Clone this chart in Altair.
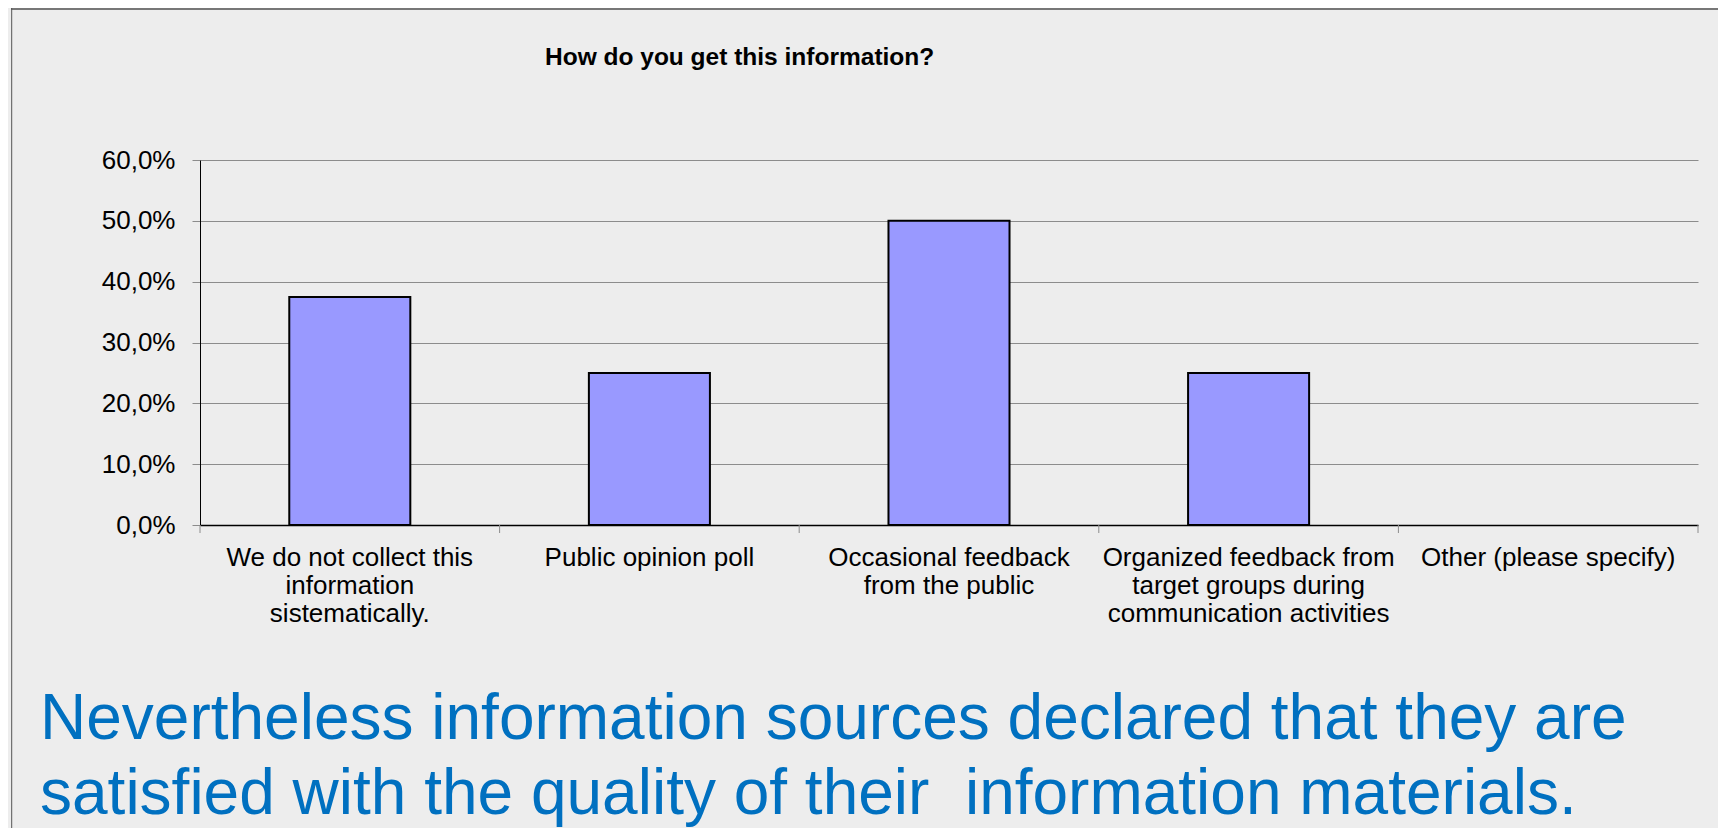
import altair as alt
import pandas as pd

# ---- data -------------------------------------------------------------
label_lines = [
    ["We do not collect this", "information", "sistematically."],
    ["Public opinion poll"],
    ["Occasional feedback", "from the public"],
    ["Organized feedback from", "target groups during", "communication activities"],
    ["Other (please specify)"],
]
categories = ["|".join(l) for l in label_lines]
shares = [0.375, 0.25, 0.50, 0.25, 0.0]
y_ticks = [0.0, 0.1, 0.2, 0.3, 0.4, 0.5, 0.6]
title_text = "How do you get this information?"
caption_lines = [
    "Nevertheless information sources declared that they are",
    "satisfied with the quality of their\u00a0 information materials.",
]

df = pd.DataFrame({"category": categories, "share": shares})
tick_df = pd.DataFrame({"category": categories})
one = pd.DataFrame({"k": [0]})

W, H = 1498, 365
FONT = "Liberation Sans"

x_scale = alt.Scale(domain=categories, paddingInner=0, paddingOuter=0)

x_axis = alt.Axis(
    title=None, labelAngle=0, labelExpr="split(datum.label, '|')",
    ticks=False, domainColor="black", domainWidth=1.5,
    labelFont=FONT, labelFontSize=26, labelColor="black",
    labelLineHeight=28, labelPadding=19, labelLimit=0,
    labelOverlap=False, labelBaseline="top",
)
y_axis = alt.Axis(
    title=None, values=y_ticks,
    labelExpr="replace(format(datum.value, '.1%'), '.', ',')",
    grid=True, gridColor="#8c8c8c", gridWidth=1,
    tickColor="#8c8c8c", tickSize=8, domainColor="black", domainWidth=1,
    labelFont=FONT, labelFontSize=26, labelColor="black", labelPadding=17,
)

bars = alt.Chart(df).transform_filter("datum.share > 0").mark_bar(
    width=alt.RelativeBandSize(0.404), color="#9999FF", stroke="black", strokeWidth=2
).encode(
    x=alt.X("category:N", sort=categories, scale=x_scale, axis=x_axis),
    y=alt.Y("share:Q", scale=alt.Scale(domain=[0, 0.6], nice=False, zero=True), axis=y_axis),
)

ticks_start = alt.Chart(tick_df).mark_rule(color="#8c8c8c", strokeWidth=1).encode(
    x=alt.X("category:N", sort=categories, scale=x_scale, bandPosition=0, axis=x_axis),
    y=alt.value(H), y2=alt.value(H + 8),
)
ticks_end = alt.Chart(tick_df).transform_filter(
    alt.datum.category == categories[-1]
).mark_rule(color="#8c8c8c", strokeWidth=1).encode(
    x=alt.X("category:N", sort=categories, scale=x_scale, bandPosition=1, axis=x_axis),
    y=alt.value(H), y2=alt.value(H + 8),
)

frame_top = alt.Chart(one).mark_rule(color="#777777", strokeWidth=2).encode(
    x=alt.value(-189), x2=alt.value(W + 40), y=alt.value(-151)
)
frame_left = alt.Chart(one).mark_rule(color="#555555", strokeWidth=1).encode(
    x=alt.value(-188.3), y=alt.value(-152), y2=alt.value(H + 320)
)

title = alt.Chart(one).mark_text(
    text=title_text, align="left", baseline="alphabetic",
    font=FONT, fontSize=24.5, fontWeight="bold", color="black",
).encode(x=alt.value(345), y=alt.value(-95))

caption = alt.Chart(one).mark_text(
    text=caption_lines, align="left", baseline="alphabetic",
    font=FONT, fontSize=64, lineHeight=75, color="#0070C0",
).encode(x=alt.value(-160), y=alt.value(579))

chart = alt.layer(
    frame_top, frame_left, bars, ticks_start, ticks_end, title, caption
).properties(
    width=W, height=H,
    autosize=alt.AutoSizeParams(type="none"),
    padding={"left": 192, "top": 152, "right": 20, "bottom": 303},
    background="#EDEDED",
).configure_view(stroke=None)

chart.save("out.html", embed_options={"renderer": "svg", "actions": False})
